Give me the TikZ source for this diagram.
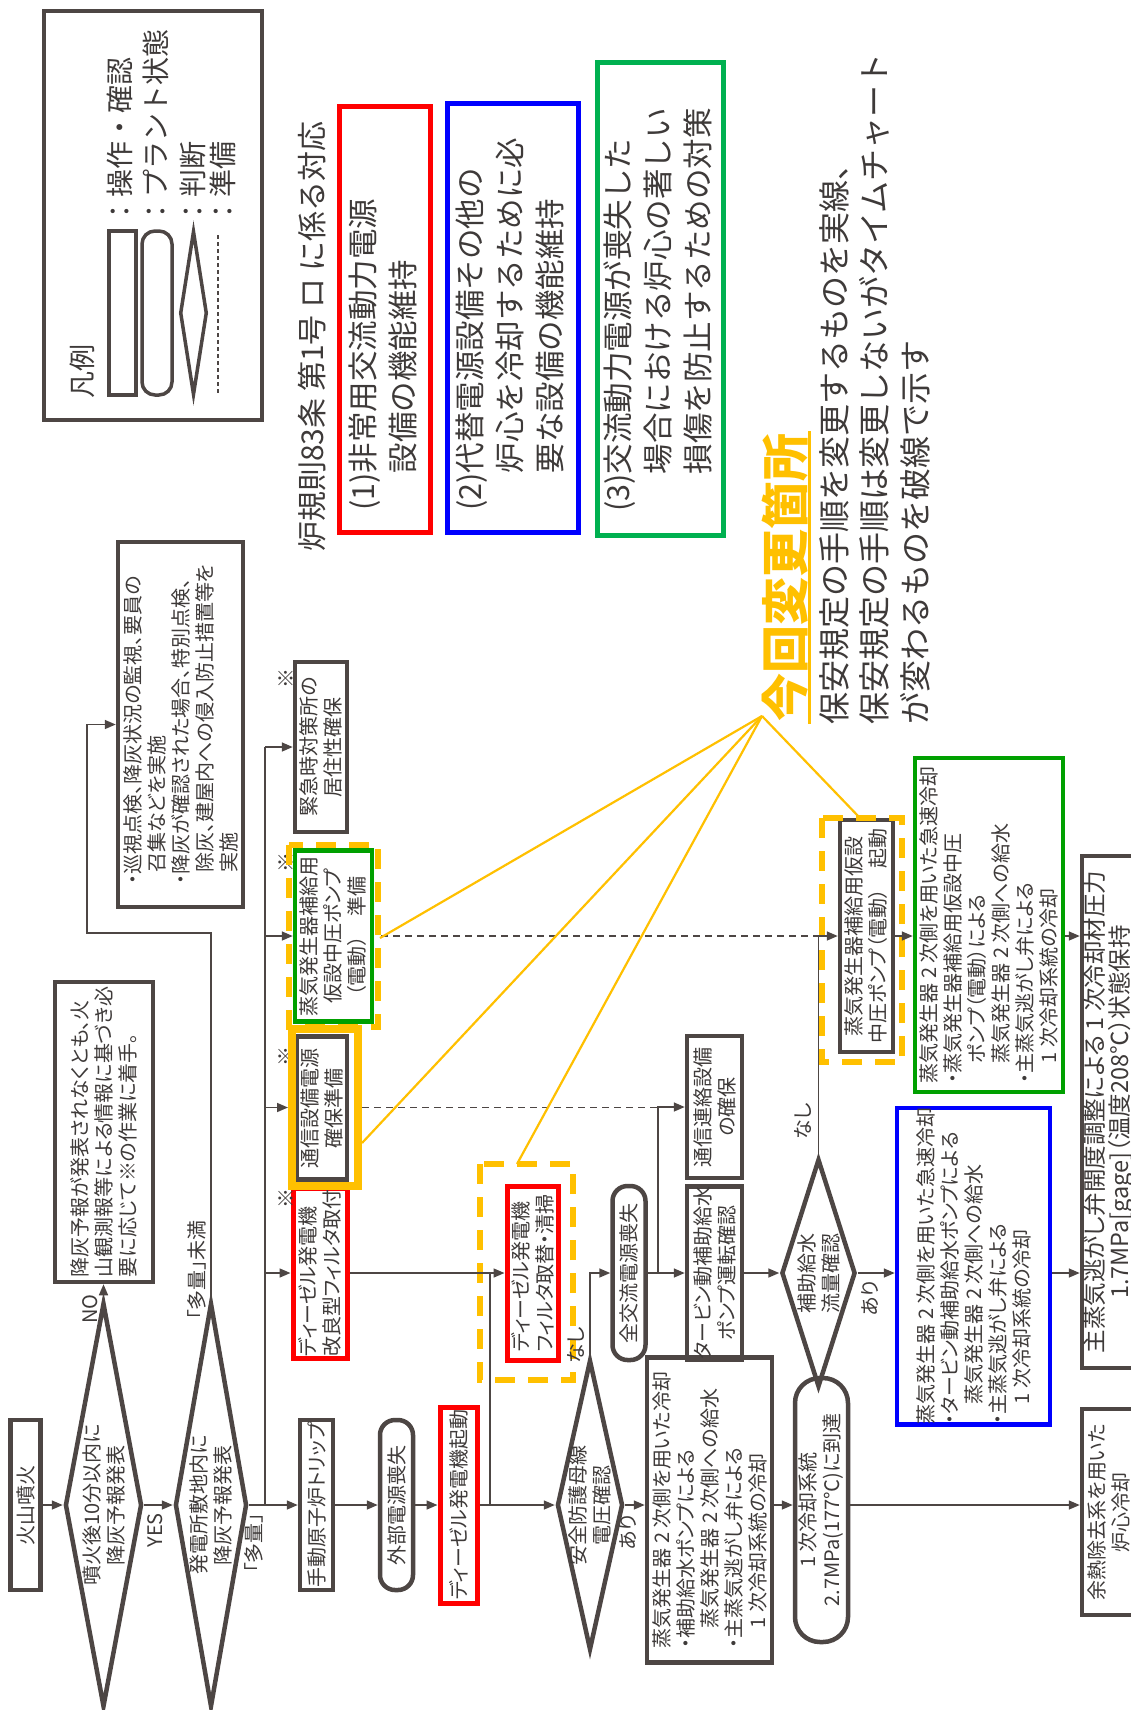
\documentclass[tikz,border=0pt]{standalone}
\usepackage{fontspec}
\setmainfont[RawFeature=+palt]{Noto Sans CJK JP}
\newfontfamily\jpfull{Noto Sans CJK JP}
\usetikzlibrary{arrows.meta,shapes.geometric}
\definecolor{dk}{HTML}{4D4644}
\definecolor{txt}{HTML}{3E3A39}
\definecolor{rd}{HTML}{FF0000}
\definecolor{bl}{HTML}{0000FF}
\definecolor{gr}{HTML}{00B050}
\definecolor{grf}{HTML}{00A000}
\definecolor{yl}{HTML}{FFC000}
\tikzset{
  sz/.style 2 args={minimum height=#1, minimum width=#2},
  rt/.style={rotate=90, text=txt, inner sep=0pt},
  fs/.style={font=\fontsize{20}{24}\selectfont},
  lbl/.style={rt, fs},
  opbox/.style={rt, fs, draw=dk, line width=4.5pt, align=center},
  redop/.style={opbox, draw=rd, line width=5pt},
  stbox/.style={opbox, rounded corners=15pt},
  dia/.style={rt, diamond, draw=dk, line width=4.5pt},
  catbox/.style={rt, line width=5pt},
  cattxt/.style={rt, anchor=west, align=left, font=\jpfull\fontsize{30.5}{40}\selectfont},
  legtxt/.style={rt, anchor=west, font=\jpfull\fontsize{28}{34}\selectfont},
  notetxt/.style={rt, anchor=west, font=\jpfull\fontsize{32}{40}\selectfont},
  ydash/.style={rt, draw=yl, line width=6pt, dash pattern=on 20pt off 13pt},
  ysolid/.style={rt, draw=yl, line width=8pt},
  arr/.style={draw=dk, line width=1.6pt, -{Triangle[length=11pt,width=9pt]}},
  ln/.style={draw=dk, line width=1.6pt},
  dsh/.style={draw=dk, line width=1.6pt, dash pattern=on 7pt off 5pt},
  yline/.style={draw=yl, line width=2.2pt},
}
\begin{document}
\begin{tikzpicture}[x=1pt,y=-1pt]
\useasboundingbox (0,0) rectangle (1130,1710);
\fill[white] (0,0) rectangle (1130,1710);

% ---------- legend
\node[rt, draw=dk, line width=4pt, sz={218}{409}] (lg) at (153,215.5) {};
\node[rt, draw=dk, line width=3.5pt, sz={27}{164}] (lgop) at (122.5,313) {};
\node[rt, draw=dk, line width=3.5pt, rounded corners=13pt, sz={30}{164}] (lgst) at (157,313) {};
\node[dia, line width=3.5pt, sz={27}{164}] (lgdi) at (193.5,313) {};
\coordinate (lgd1) at (218,235);
\coordinate (lgd2) at (218,395);
\draw[dk, line width=1.5pt, dash pattern=on 4pt off 3pt] (lgd1) -- (lgd2);
\node[legtxt] (lgt1) at (120,226) {：操作・確認};
\node[legtxt] (lgt2) at (156,226) {：プラント状態};
\node[legtxt] (lgt3) at (193,226) {：判断};
\node[legtxt] (lgt4) at (223,226) {：準備};
\node[legtxt, font=\jpfull\fontsize{27}{32}\selectfont] (lgh) at (82,399) {凡例};

% ---------- title and categories
\node[rt, anchor=west, font=\jpfull\fontsize{30}{36}\selectfont] (ttl) at (312,552) {炉規則83条 第1号 ロ に係る対応};
\node[catbox, draw=rd, sz={91}{426}] (c1) at (385,319) {};
\node[catbox, draw=bl, sz={131}{429}] (c2) at (512.5,317.5) {};
\node[catbox, draw=gr, sz={126}{472}] (c3) at (660,299) {};
\node[cattxt] (c1t) at (385,511) {(1)非常用交流動力電源\\\phantom{(1)}設備の機能維持};
\node[cattxt] (c2t) at (512,511) {(2)代替電源設備その他の\\\phantom{(2)}炉心を冷却するために必\\\phantom{(2)}要な設備の機能維持};
\node[cattxt] (c3t) at (660,512) {(3)交流動力電源が喪失した\\\phantom{(3)}場合における炉心の著しい\\\phantom{(3)}損傷を防止するための対策};

% ---------- change notes
\node[rt, anchor=west, text=yl, font=\bfseries\fontsize{48}{52}\selectfont] (kai) at (785,722) {今回変更箇所};
\coordinate (ul1) at (809,724);
\coordinate (ul2) at (809,431);
\draw[yl, line width=3pt] (ul1) -- (ul2);
\node[notetxt] (nt1) at (834,725) {保安規定の手順を変更するものを実線、};
\node[notetxt] (nt2) at (874,725) {保安規定の手順は変更しないがタイムチャート};
\node[notetxt] (nt3) at (915,725) {が変わるものを破線で示す};

% ---------- flowchart nodes
\node[opbox, sz={30}{170}] (kazan) at (25.5,1505) {火山噴火};
\node[dia, sz={77}{404}] (dA) at (103.5,1505) {};
\node[lbl, align=center] (tA) at (dA) {噴火後10分以内に\\降灰予報発表};
\node[dia, sz={72}{404}] (dB) at (211,1505) {};
\node[lbl, align=center] (tB) at (dB) {発電所敷地内に\\降灰予報発表};
\node[opbox, align=left, sz={98}{300}] (nob) at (104,1132) {降灰予報が発表されなくとも、火\\山観測報等による情報に基づき必\\要に応じて※の作業に着手。};
\node[opbox, align=left, sz={125}{365}] (jun) at (180.5,724.5) {・巡視点検、降灰状況の監視、要員の\\\hspace*{.6em}召集などを実施\\・降灰が確認された場合、特別点検、\\\hspace*{.6em}除灰、建屋内への侵入防止措置等を\\\hspace*{.6em}実施};

\node[opbox, sz={52}{170}] (kin) at (321,747) {緊急時対策所の\\居住性確保};
\node[opbox, draw=grf, sz={77}{171}] (jyu) at (333.5,936) {蒸気発生器補給用\\仮設中圧ポンプ\\（電動）　準備};
\node[opbox, sz={50}{143}] (tsu) at (322,1108) {通信設備電源\\確保準備};
\node[redop, align=left, sz={54}{170}] (kaif) at (320,1273) {ディーゼル発電機\\改良型フィルタ取付};
\node[lbl] (k1) at (286,678) {※};
\node[lbl] (k2) at (286,862) {※};
\node[lbl] (k3) at (286,1056) {※};
\node[lbl] (k4) at (286,1198) {※};

\node[opbox, sz={33}{170}] (trip) at (316.5,1505) {手動原子炉トリップ};
\node[stbox, sz={33}{170}] (gai) at (396.5,1505) {外部電源喪失};
\node[redop, sz={37}{196}] (dgs) at (458.5,1505) {ディーゼル発電機起動};
\node[redop, align=left, sz={51}{174}] (tor) at (532.5,1273) {ディーゼル発電機\\フィルタ取替・清掃};
\node[dia, sz={66}{290}] (dC) at (590,1505) {};
\node[lbl, align=center] (tC) at (dC) {安全防護母線\\電圧確認};
\node[opbox, align=left, sz={125}{305}] (box4) at (709.5,1510) {蒸気発生器 2 次側を用いた冷却\\・補助給水ポンプによる\\\hspace*{1em}蒸気発生器 2 次側への給水\\・主蒸気逃がし弁による\\\hspace*{1em}1 次冷却系統の冷却};
\node[stbox, rounded corners=25pt, sz={53}{264}] (st1) at (821.5,1510) {1 次冷却系統\\2.7MPa(177℃)に到達};
\node[opbox, sz={54}{206}] (yon) at (1109,1512) {余熱除去系を用いた\\炉心冷却};

\node[stbox, sz={33}{174}] (zen) at (629,1273) {全交流電源喪失};
\node[opbox, sz={55}{172}] (tur) at (714.5,1273) {タービン動補助給水\\ポンプ運転確認};
\node[opbox, sz={55}{142}] (tsu2) at (714.5,1107) {通信連絡設備\\の確保};
\node[dia, sz={74}{228}] (dD) at (818.5,1273) {};
\node[lbl, align=center] (tD) at (dD) {補助給水\\流量確認};
\node[opbox, sz={53}{232}] (kid) at (866.5,936) {蒸気発生器補給用仮設\\中圧ポンプ（電動）　起動};
\node[opbox, draw=grf, align=left, sz={148}{334}] (grn) at (989,925) {蒸気発生器 2 次側を用いた急速冷却\\・蒸気発生器補給用仮設中圧\\\hspace*{1em}ポンプ（電動）による\\\hspace*{1em}蒸気発生器 2 次側への給水\\・主蒸気逃がし弁による\\\hspace*{1em}1 次冷却系統の冷却};
\node[opbox, draw=bl, align=left, sz={153}{298}] (blu) at (973.5,1266) {蒸気発生器 2 次側を用いた急速冷却\\・タービン動補助給水ポンプによる\\\hspace*{1em}蒸気発生器 2 次側への給水\\・主蒸気逃がし弁による\\\hspace*{1em}1 次冷却系統の冷却};
\node[opbox, font=\fontsize{23.5}{25}\selectfont, sz={54}{512}] (shu) at (1109,1112) {主蒸気逃がし弁開度調整による 1 次冷却材圧力\\1.7MPa[gage]（温度208℃）状態保持};

% yellow frames
\node[ydash, sz={89}{182}] (jyuY) at (333.5,936) {};
\node[ysolid, sz={66}{157}] (tsuY) at (325,1107.5) {};
\node[ydash, sz={93}{216}] (torY) at (526.5,1272) {};
\node[ydash, sz={80}{244}] (kidY) at (862,940) {};

% ---------- labels
\node[lbl, anchor=east] (lyes) at (155,1513) {YES};
\node[lbl] (lno) at (90,1309) {NO};
\node[lbl] (lmiman) at (197,1270) {「多量」未満};
\node[lbl, anchor=east] (ltaryo) at (254,1513) {「多量」};
\node[lbl] (lna1) at (576,1345) {なし};
\node[lbl, anchor=east] (lar1) at (628,1514) {あり};
\node[lbl] (lna2) at (803,1121) {なし};
\node[lbl, anchor=east] (lar2) at (870,1280) {あり};

% ---------- connectors
\draw[arr] (kazan) -- (dA);
\draw[arr] (dA) -- (dB);
\draw[arr] (dA.east) -- (dA.east |- nob.west);
\coordinate (cL) at (87,933);
\draw[arr] (dB.east) |- (cL) |- (jun.north);
\draw[arr] (dB) -- (trip);
\coordinate (tr0) at (265,1505);
\coordinate (tr1) at (265,747);
\draw[ln] (tr0) -- (tr1);
\draw[arr] (tr1) -- (kin.north);
\draw[arr] (tr1 |- jyu.north) -- (jyu.north);
\draw[arr] (tr1 |- tsuY.north) -- (tsuY.north);
\draw[arr] (tr1 |- kaif.north) -- (kaif.north);
\draw[arr] (trip) -- (gai);
\draw[arr] (gai) -- (dgs);
\draw[arr] (dgs) -- (dC);
\coordinate (j1) at (490,1505);
\draw[ln] (j1) -- (j1 |- kaif);
\draw[arr] (kaif) -- (tor);
\draw[arr] (dC.south) -- (dC.south -| box4.north);
\draw[arr] (dC.south -| box4.south) -- (dC.south -| st1.north);
\draw[arr] (dC.south -| st1.south) -- (dC.south -| yon.north);
\draw[arr] (dC.east) |- (zen.north);
\draw[arr] (zen) -- (tur);
\coordinate (j2) at (658,1273);
\draw[arr] (j2) |- (tsu2.north);
\draw[arr] (tur) -- (dD);
\draw[arr] (dD.east) |- (kid.north);
\draw[arr] (dD.south) -- (dD.south -| blu.north);
\draw[arr] (kid) -- (kid -| grn.north);
\draw[arr] (grn.south |- kid) -- (kid -| shu.north);
\draw[arr] (blu.south |- dD) -- (dD -| shu.north);
\draw[dsh] (jyuY.south) -- (jyuY.south -| dD.east);
\draw[dsh] (tsuY.south) -- (tsuY.south -| j2);

% ---------- yellow pointers
\coordinate (kO) at (762,716);
\coordinate (ke1) at (380,938);
\coordinate (ke2) at (362,1143);
\coordinate (ke3) at (517,1164);
\coordinate (ke4) at (860,818);
\draw[yline] (kO) -- (ke1);
\draw[yline] (kO) -- (ke2);
\draw[yline] (kO) -- (ke3);
\draw[yline] (kO) -- (ke4);
\end{tikzpicture}
\end{document}
